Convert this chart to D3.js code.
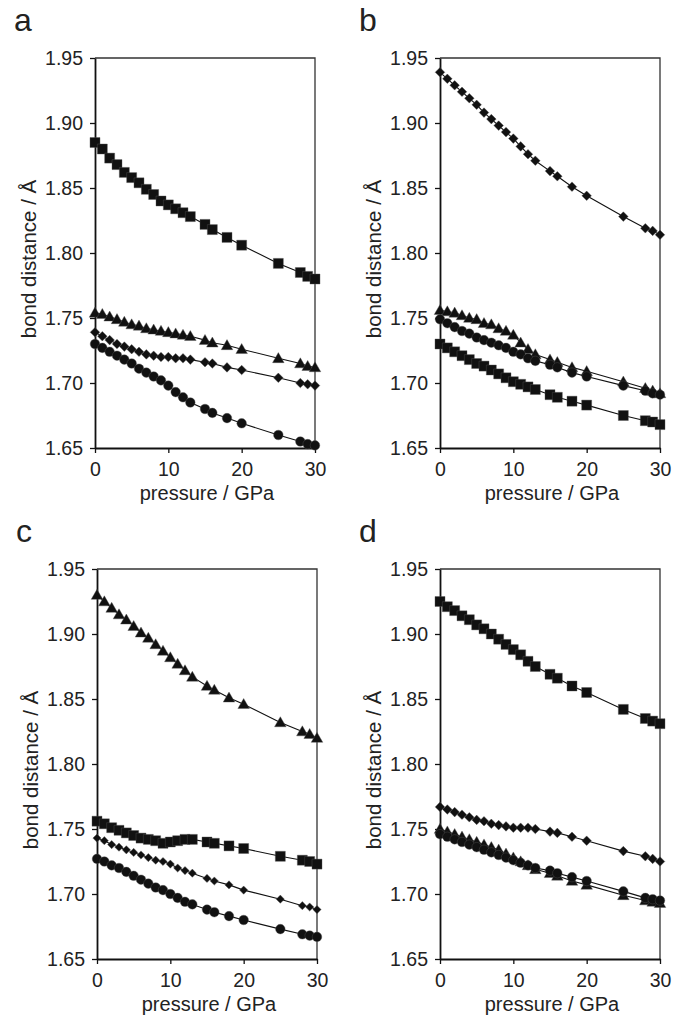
<!DOCTYPE html>
<html>
<head>
<meta charset="utf-8">
<script src="https://cdn.jsdelivr.net/npm/d3@7"></script>
<style>
  body { margin: 0; background: #fff; }
  text { font-family: "Liberation Sans", Arial, sans-serif; fill: #222; }
</style>
</head>
<body>
<div id="chart"></div>
<script>
// pressures (GPa) shared by every series
var pressure = [0,1,2,3,4,5,6,7,8,9,10,11,12,13,15,16,18,20,25,28,29,30];

var xTicks = [0, 10, 20, 30];
var yTicks = [1.65, 1.70, 1.75, 1.80, 1.85, 1.90, 1.95];

// panel a
var aSquare   = [1.885,1.880,1.873,1.868,1.862,1.858,1.854,1.849,1.845,1.840,1.837,1.834,1.831,1.828,1.822,1.818,1.812,1.806,1.792,1.785,1.782,1.780];
var aTriangle = [1.754,1.753,1.751,1.749,1.747,1.745,1.744,1.742,1.741,1.740,1.739,1.738,1.737,1.736,1.733,1.731,1.729,1.726,1.719,1.715,1.713,1.712];
var aDiamond  = [1.739,1.736,1.733,1.730,1.728,1.726,1.724,1.722,1.721,1.720,1.720,1.719,1.719,1.718,1.716,1.715,1.712,1.710,1.704,1.700,1.699,1.698];
var aCircle   = [1.730,1.727,1.724,1.721,1.718,1.715,1.711,1.708,1.705,1.702,1.698,1.693,1.689,1.685,1.680,1.677,1.673,1.669,1.660,1.655,1.653,1.652];

// panel b
var bDiamond  = [1.939,1.934,1.929,1.924,1.919,1.914,1.908,1.903,1.898,1.893,1.888,1.882,1.876,1.871,1.863,1.859,1.851,1.844,1.828,1.819,1.817,1.814];
var bTriangle = [1.756,1.755,1.754,1.752,1.750,1.749,1.746,1.745,1.742,1.740,1.737,1.731,1.726,1.722,1.718,1.716,1.712,1.709,1.701,1.696,1.694,1.692];
var bCircle   = [1.749,1.746,1.743,1.740,1.738,1.735,1.733,1.731,1.729,1.727,1.724,1.722,1.719,1.717,1.714,1.712,1.708,1.705,1.698,1.694,1.692,1.691];
var bSquare   = [1.730,1.727,1.724,1.721,1.718,1.715,1.713,1.710,1.707,1.704,1.701,1.699,1.697,1.695,1.691,1.689,1.686,1.683,1.675,1.671,1.670,1.668];

// panel c
var cTriangle = [1.930,1.925,1.920,1.915,1.911,1.906,1.901,1.897,1.892,1.887,1.882,1.877,1.872,1.867,1.860,1.857,1.851,1.846,1.832,1.825,1.823,1.820];
var cSquare   = [1.756,1.754,1.751,1.749,1.747,1.745,1.743,1.742,1.741,1.739,1.740,1.741,1.742,1.742,1.740,1.739,1.737,1.735,1.729,1.726,1.725,1.723];
var cDiamond  = [1.743,1.741,1.738,1.736,1.734,1.732,1.730,1.728,1.726,1.725,1.723,1.720,1.718,1.716,1.712,1.710,1.707,1.703,1.696,1.691,1.690,1.688];
var cCircle   = [1.727,1.725,1.722,1.720,1.717,1.714,1.711,1.708,1.705,1.703,1.700,1.697,1.694,1.692,1.688,1.686,1.683,1.680,1.673,1.669,1.668,1.667];

// panel d
var dSquare   = [1.925,1.921,1.918,1.914,1.911,1.907,1.904,1.900,1.896,1.892,1.888,1.884,1.879,1.875,1.869,1.866,1.860,1.855,1.842,1.835,1.833,1.831];
var dDiamond  = [1.767,1.765,1.763,1.761,1.759,1.757,1.756,1.754,1.753,1.752,1.751,1.751,1.751,1.750,1.748,1.747,1.744,1.741,1.733,1.729,1.727,1.725];
var dTriangle = [1.750,1.748,1.746,1.744,1.742,1.740,1.738,1.736,1.734,1.731,1.728,1.725,1.722,1.719,1.716,1.714,1.710,1.707,1.699,1.695,1.694,1.693];
var dCircle   = [1.746,1.744,1.742,1.740,1.738,1.736,1.734,1.732,1.730,1.728,1.726,1.724,1.722,1.720,1.718,1.716,1.713,1.710,1.702,1.697,1.696,1.695];

var panels = [
  {label: "a", left: 95,  top: 58,  diamond: 46, series: [["square", aSquare], ["triangle", aTriangle], ["diamond", aDiamond], ["circle", aCircle]]},
  {label: "b", left: 440, top: 58,  diamond: 46, series: [["diamond", bDiamond], ["triangle", bTriangle], ["circle", bCircle], ["square", bSquare]]},
  {label: "c", left: 97,  top: 569, diamond: 34, series: [["triangle", cTriangle], ["square", cSquare], ["diamond", cDiamond], ["circle", cCircle]]},
  {label: "d", left: 440, top: 569, diamond: 46, series: [["square", dSquare], ["diamond", dDiamond], ["triangle", dTriangle], ["circle", dCircle]]}
];

var width = 220, height = 390;
var fontSize = "19.5px";

var svg = d3.select("#chart")
  .append("svg")
    .attr("width", 690)
    .attr("height", 1017);

var x = d3.scaleLinear().domain([0, 30]).range([0, width]);
var y = d3.scaleLinear().domain([1.65, 1.95]).range([height, 0]);

var line = d3.line()
  .x(function(d) { return x(d[0]); })
  .y(function(d) { return y(d[1]); });

panels.forEach(function(p) {
  // marker shapes (diamond size differs a bit between panels)
  var shapes = {
    square:   d3.symbol().type(d3.symbolSquare).size(100),
    triangle: d3.symbol().type(d3.symbolTriangle).size(58),
    diamond:  d3.symbol().type(d3.symbolSquare).size(p.diamond),
    circle:   d3.symbol().type(d3.symbolCircle).size(72)
  };

  var g = svg.append("g")
    .attr("transform", "translate(" + p.left + "," + p.top + ")");

  // panel letter
  svg.append("text")
    .attr("x", p.left - 81)
    .attr("y", p.top - 27)
    .style("font-size", "32px")
    .text(p.label);

  // frame (top and right)
  g.append("path")
    .attr("d", "M0,0H" + width + "V" + height)
    .attr("fill", "none")
    .attr("stroke", "#333")
    .attr("stroke-width", 1.3);

  // X axis
  var xAxis = g.append("g")
    .attr("transform", "translate(0," + height + ")")
    .call(d3.axisBottom(x).tickValues(xTicks).tickSize(5).tickPadding(9).tickSizeOuter(0));

  // Y axis
  var yAxis = g.append("g")
    .call(d3.axisLeft(y).tickValues(yTicks).tickFormat(d3.format(".2f")).tickSize(5).tickPadding(7).tickSizeOuter(0));

  [xAxis, yAxis].forEach(function(ax) {
    ax.select(".domain").attr("stroke", "#111").attr("stroke-width", 1.8);
    ax.selectAll(".tick line").attr("stroke", "#111").attr("stroke-width", 1.3);
    ax.selectAll("text")
      .style("font-size", fontSize)
      .style("font-family", "'Liberation Sans', Arial, sans-serif")
      .attr("fill", "#222");
  });

  // axis titles
  g.append("text")
    .attr("x", width / 2 + 2)
    .attr("y", height + 52)
    .attr("text-anchor", "middle")
    .style("font-size", "20px")
    .text("pressure / GPa");

  g.append("text")
    .attr("transform", "translate(" + (-59) + "," + (height / 2 + 6) + ") rotate(-90)")
    .attr("text-anchor", "middle")
    .style("font-size", "20.5px")
    .text("bond distance / Å");

  // series lines + markers
  p.series.forEach(function(s) {
    var pts = pressure.map(function(v, i) { return [v, s[1][i]]; });

    g.append("path")
      .datum(pts)
      .attr("d", line)
      .attr("fill", "none")
      .attr("stroke", "#111")
      .attr("stroke-width", 1.1);

    g.selectAll(null)
      .data(pts)
      .enter()
      .append("path")
        .attr("d", shapes[s[0]])
        .attr("transform", function(d) {
          var t = "translate(" + x(d[0]) + "," + y(d[1]) + ")";
          if (s[0] === "diamond") t += " rotate(45)";
          if (s[0] === "triangle") t += " translate(0,1)";
          return t;
        })
        .attr("fill", "#111")
        .attr("stroke", "#555")
        .attr("stroke-width", 0.4);
  });
});
</script>
</body>
</html>
